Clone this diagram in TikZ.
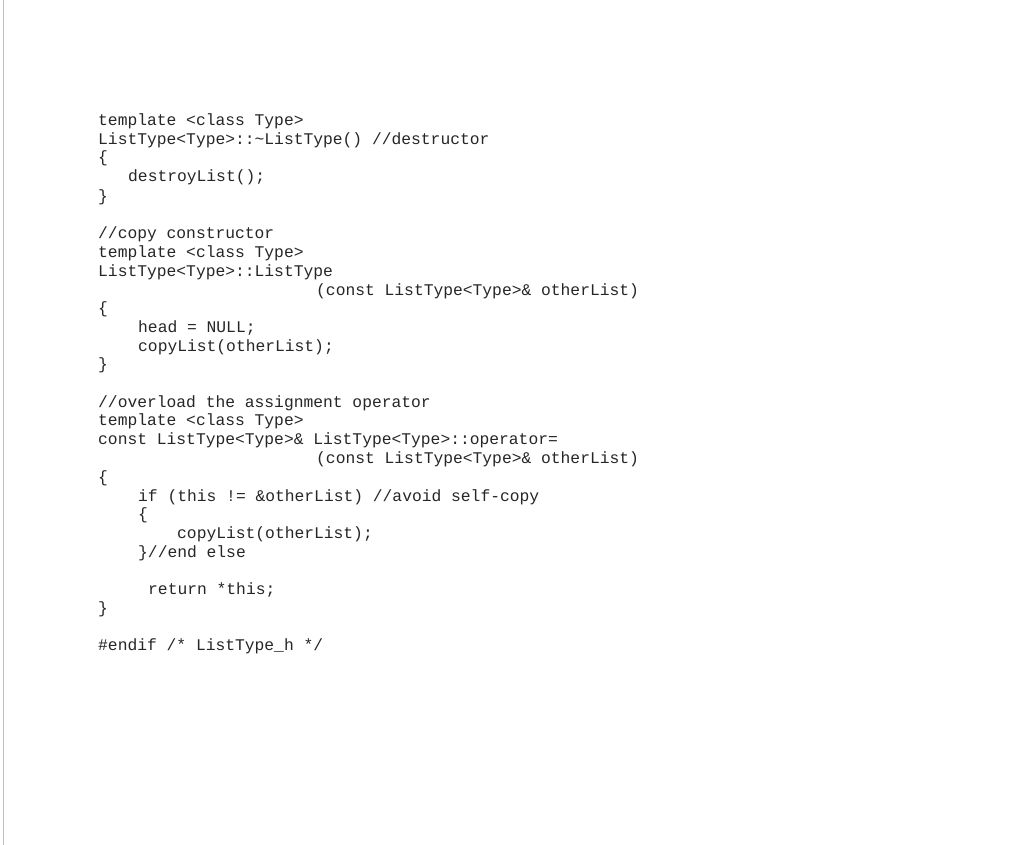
\documentclass[tikz,border=0pt]{standalone}
\usepackage{fontspec}
\setmonofont{Liberation Mono}
\begin{document}
\begin{tikzpicture}[x=1pt,y=-1pt,
  code/.style={anchor=base west,inner sep=0pt,font=\ttfamily\fontsize{16.3}{18}\selectfont,text=black!85}]
\useasboundingbox (0,0) rectangle (1011,845);
\fill[white] (0,0) rectangle (1011,845);
\draw[black!25,line width=1pt] (3.5,0) -- (3.5,845);
\node[code] (a1) at (98,126) {template <class Type>};
\node[code] (a2) at (98,145) {ListType<Type>::\textasciitilde ListType() //destructor};
\node[code] (a3) at (98,163) {\{};
\node[code] (a4) at (128,182) {destroyList();};
\node[code] (a5) at (98,201) {\}};
\node[code] (b1) at (98,238) {//copy constructor};
\node[code] (b2) at (98,257) {template <class Type>};
\node[code] (b3) at (98,276) {ListType<Type>::ListType};
\node[code] (b4) at (316,295) {(const ListType<Type>\& otherList)};
\node[code] (b5) at (98,313) {\{};
\node[code] (b6) at (138,332) {head = NULL;};
\node[code] (b7) at (138,351) {copyList(otherList);};
\node[code] (b8) at (98,369) {\}};
\node[code] (c1) at (98,407) {//overload the assignment operator};
\node[code] (c2) at (98,425) {template <class Type>};
\node[code] (c3) at (98,444) {const ListType<Type>\& ListType<Type>::operator=};
\node[code] (c4) at (316,463) {(const ListType<Type>\& otherList)};
\node[code] (c5) at (98,482) {\{};
\node[code] (c6) at (138,501) {if (this != \&otherList) //avoid self-copy};
\node[code] (c7) at (138,519) {\{};
\node[code] (c8) at (177,538) {copyList(otherList);};
\node[code] (c9) at (138,557) {\}//end else};
\node[code] (c10) at (148,594) {return *this;};
\node[code] (c11) at (98,613) {\}};
\node[code] (d1) at (98,650) {\#endif /* ListType\_h */};
\end{tikzpicture}
\end{document}
